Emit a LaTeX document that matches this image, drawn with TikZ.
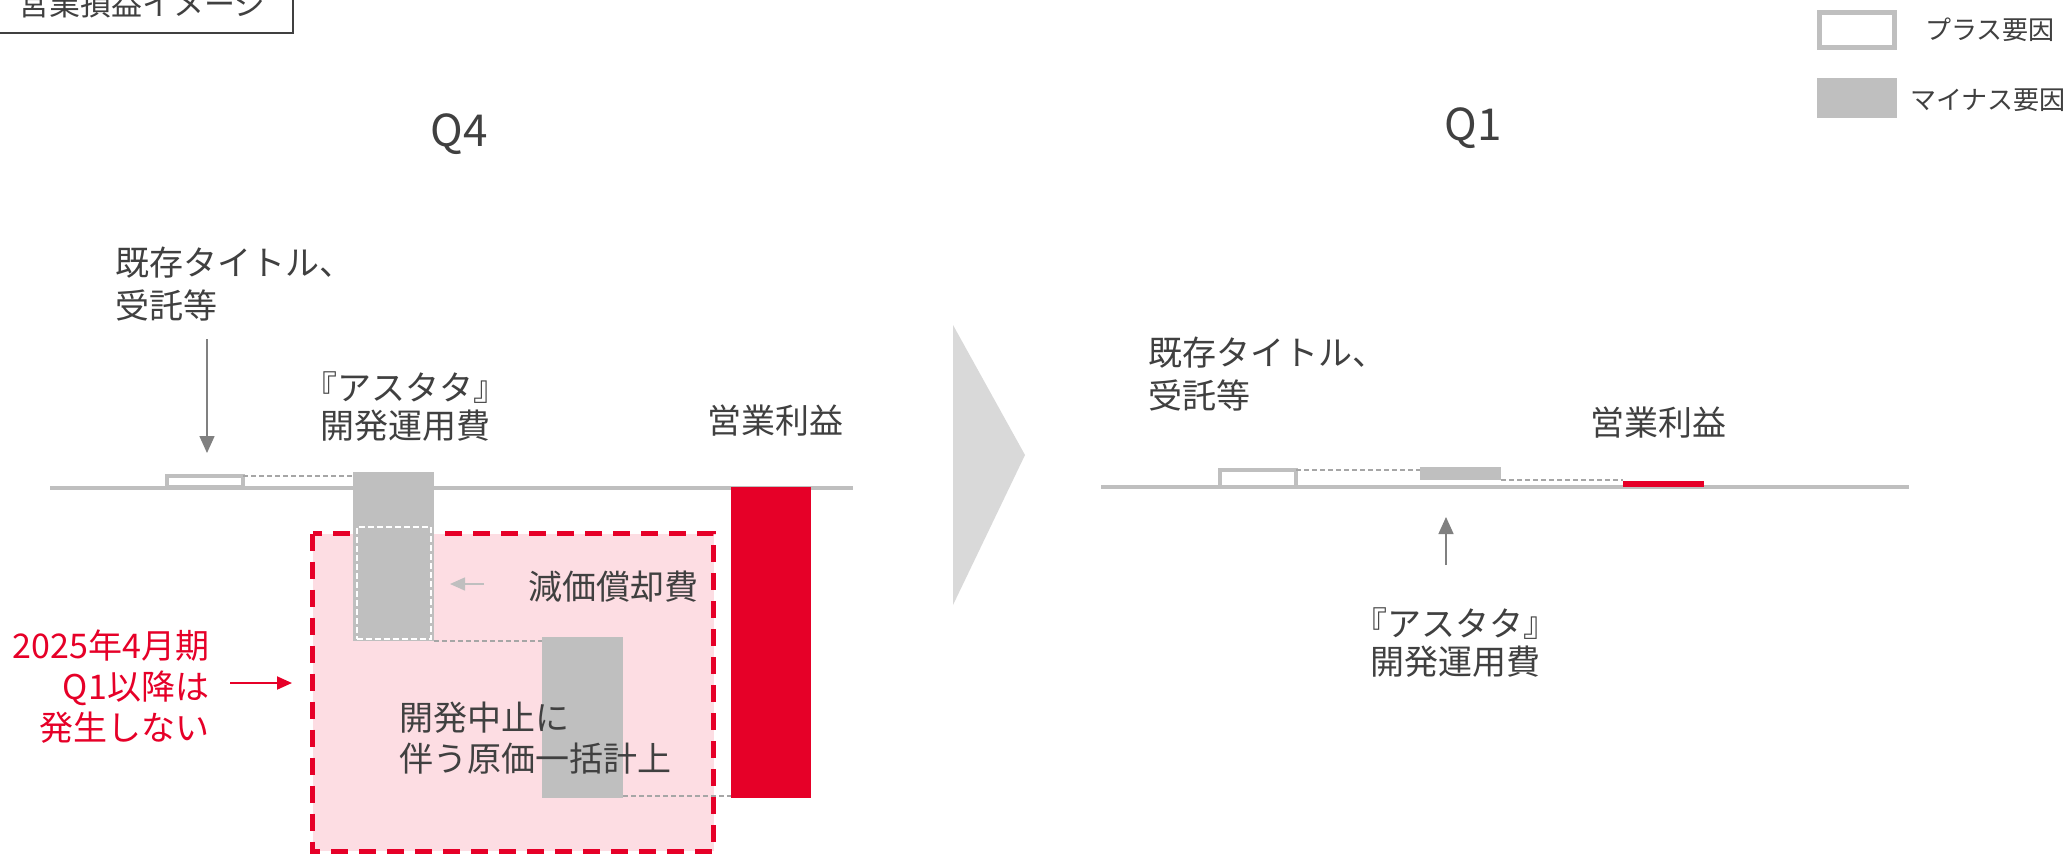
\documentclass[tikz,border=0pt]{standalone}
\usepackage{fontspec}
\setmainfont{Noto Sans CJK JP}
\usetikzlibrary{arrows.meta}
\definecolor{tgray}{HTML}{404040}
\definecolor{bgray}{HTML}{BFBFBF}
\definecolor{agray}{HTML}{808080}
\definecolor{jred}{HTML}{E60028}
\definecolor{jpink}{HTML}{FDDDE3}
\definecolor{trigray}{HTML}{D9D9D9}
\definecolor{dgray}{HTML}{A6A6A6}
\tikzset{
  txt/.style={text=tgray, inner sep=0pt, outer sep=0pt, font=\fontsize{34pt}{43pt}\selectfont},
  redtxt/.style={text=jred, inner sep=0pt, outer sep=0pt, align=right, font=\fontsize{34pt}{41pt}\selectfont},
  plusbox/.style={draw=bgray, line width=4pt, fill=white, inner sep=0pt, outer sep=0pt},
  minusbox/.style={fill=bgray, inner sep=0pt, outer sep=0pt},
  profit/.style={fill=jred, inner sep=0pt, outer sep=0pt},
  axisline/.style={draw=bgray, line width=4pt},
  guide/.style={draw=dgray, line width=1.5pt, dash pattern=on 5pt off 3pt},
  pointer/.style={draw=agray, line width=1.5pt, -{Triangle[length=17pt,width=15pt]}},
  smallpointer/.style={draw=bgray, line width=1.5pt, -{Triangle[length=15pt,width=13pt]}},
  redpointer/.style={draw=jred, line width=2pt, -{Triangle[length=15pt,width=13pt]}},
  stopzone/.style={fill=jpink, draw=jred, line width=5pt, dash pattern=on 17pt off 11pt},
  innerdash/.style={draw=white, line width=2pt, dash pattern=on 6pt off 3pt, inner sep=0pt, outer sep=0pt},
}
\begin{document}
\begin{tikzpicture}[x=1pt,y=-1pt]
\useasboundingbox (0,0) rectangle (2071,854);
\fill[white] (0,0) rectangle (2071,854);

% title box
\node[draw=tgray, line width=2pt, inner sep=0pt, minimum width=306pt, minimum height=48pt] (titlebox) at (140,9) {};
\node[txt, font=\fontsize{31pt}{36pt}\selectfont] (title) at (142,4) {営業損益イメージ};

% legend
\node[plusbox, line width=5pt, minimum width=75pt, minimum height=35pt] (legplus) at (1857,30) {};
\node[txt, anchor=west, font=\fontsize{26pt}{30pt}\selectfont] (legplustxt) at (1925,30) {プラス要因};
\node[minusbox, minimum width=80pt, minimum height=40pt] (legminus) at (1857,98) {};
\node[txt, anchor=west, font=\fontsize{26pt}{30pt}\selectfont] (legminustxt) at (1910,100) {マイナス要因};

% headings
\node[txt, font=\fontsize{44pt}{50pt}\selectfont] (q4) at (459,134) {Q4};
\node[txt, font=\fontsize{44pt}{50pt}\selectfont] (q1) at (1473,128) {Q1};

% ===== Q4 =====
\coordinate (ax1s) at (50,488);
\coordinate (ax1e) at (853,488);
\draw[axisline] (ax1s) -- (ax1e);

% stop zone
\path[stopzone] (312.5,533.5) rectangle (713.5,851);

\node[plusbox, minimum width=76pt, minimum height=11pt] (p1) at (205,481.5) {};
\node[minusbox, minimum width=81pt, minimum height=169pt] (gb1) at (393.5,556.5) {};
\node[innerdash, minimum width=74pt, minimum height=112pt] (dep) at (393.5,583) {};
\node[minusbox, minimum width=81pt, minimum height=161pt] (gb2) at (582.5,717.5) {};
\node[profit, minimum width=80pt, minimum height=311pt] (r1) at (771,642.5) {};

\draw[guide] (p1.north east) -- (p1.north east -| gb1.west);
\draw[guide] (gb1.south east) -- (gb1.south east -| gb2.west);
\draw[guide] ([yshift=2pt]gb2.south east) -- ([yshift=2pt]gb2.south east -| r1.west);

\node[txt, anchor=west, align=left] (kizon1) at (115,284) {既存タイトル、\\受託等};
\coordinate (a1s) at (207,339);
\coordinate (a1e) at (207,453);
\draw[pointer] (a1s) -- (a1e);

\node[txt, align=center, font=\fontsize{34pt}{38pt}\selectfont] (astata1) at (405,407) {『アスタタ』\\開発運用費};
\node[txt] (op1) at (775,421) {営業利益};

\node[txt, anchor=west] (genka) at (528,587) {減価償却費};
\coordinate (sa1) at (484,584);
\coordinate (sa2) at (450,584);
\draw[smallpointer] (sa1) -- (sa2);

\node[txt, anchor=west, align=left, font=\fontsize{34pt}{41pt}\selectfont] (chushi) at (399,738) {開発中止に\\伴う原価一括計上};

\node[redtxt, anchor=east] (note) at (209,687) {2025年4月期\\Q1以降は\\発生しない};
\coordinate (ra1) at (230,683);
\coordinate (ra2) at (292,683);
\draw[redpointer] (ra1) -- (ra2);

% transition triangle
\fill[trigray] (953,325) -- (1025,455) -- (953,605) -- cycle;

% ===== Q1 =====
\coordinate (ax2s) at (1101,487);
\coordinate (ax2e) at (1909,487);
\draw[axisline] (ax2s) -- (ax2e);

\node[plusbox, minimum width=76pt, minimum height=17pt] (p2) at (1258,478.5) {};
\node[minusbox, minimum width=81pt, minimum height=13pt] (gb3) at (1460.5,473.5) {};
\node[profit, minimum width=81pt, minimum height=6pt] (r2) at (1663.5,484) {};
\draw[guide] (p2.north east) -- (p2.north east -| gb3.west);
\draw[guide] (gb3.south east) -- (gb3.south east -| r2.west);

\node[txt, anchor=west, align=left] (kizon2) at (1148,374) {既存タイトル、\\受託等};
\node[txt] (op2) at (1658,423) {営業利益};

\coordinate (a2s) at (1446,565);
\coordinate (a2e) at (1446,517);
\draw[pointer] (a2s) -- (a2e);
\node[txt, align=center, font=\fontsize{34pt}{38pt}\selectfont] (astata2) at (1455,643) {『アスタタ』\\開発運用費};
\end{tikzpicture}
\end{document}
